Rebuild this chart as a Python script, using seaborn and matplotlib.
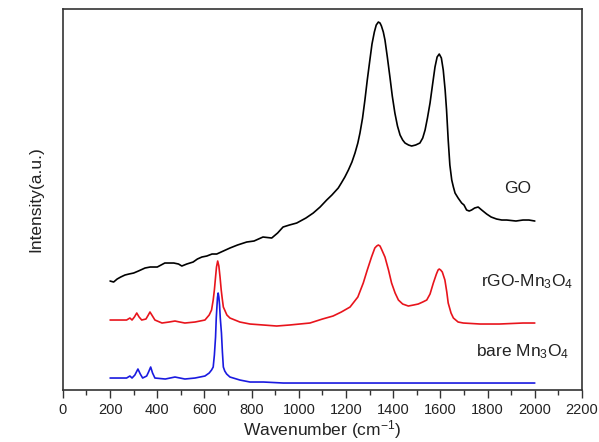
import numpy as np
import pandas as pd
import matplotlib
matplotlib.use("Agg")
import matplotlib.pyplot as plt
import seaborn as sns
from matplotlib.ticker import MultipleLocator

# ---- data (arbitrary intensity units) ----
go_x = [200, 215, 230, 245, 263, 280, 300, 320, 348, 370, 400, 432, 450, 470, 490, 504, 525,
        552, 570, 589, 610, 632, 652, 680, 708, 740, 779, 810, 848, 885, 910,
        933, 960, 991, 1030, 1061, 1090, 1118, 1140, 1167, 1180, 1195, 1210, 1225, 1238, 1250,
        1259, 1270, 1280, 1290, 1301, 1310, 1320, 1328, 1337, 1344, 1350, 1358, 1365, 1375,
        1386, 1396, 1407, 1418, 1429, 1440, 1450, 1465, 1478, 1495, 1513, 1525, 1535, 1545,
        1556, 1567, 1577, 1586, 1595, 1604, 1612, 1620, 1626, 1633, 1640, 1648, 1655, 1662,
        1675, 1690, 1700, 1711, 1722, 1732, 1745, 1760, 1775, 1796, 1815, 1838, 1860, 1881,
        1920, 1950, 1975, 2000]
go_y = [109, 108, 111, 113, 115, 116, 117, 119, 122, 123, 123, 127, 127, 127, 126, 124, 126,
        128, 131, 133, 134, 136, 136, 139, 142, 145, 148, 149, 153, 152, 157,
        163, 165, 167, 172, 177, 183, 190, 195, 202, 207, 213, 220, 228, 237, 247,
        257, 272, 290, 310, 330, 346, 358, 365, 368, 367, 364, 358, 350, 333,
        313, 294, 277, 264, 255, 250, 247, 245, 244, 245, 247, 252, 260, 272,
        287, 306, 323, 333, 336, 332, 320, 300, 280, 250, 225, 210, 203, 197,
        192, 187, 185, 180, 179, 180, 182, 183, 180, 176, 173, 171, 170, 170,
        169, 170, 170, 169]

rgo_x = [200, 250, 270, 284, 293, 303, 313, 323, 334, 352, 362, 369, 377, 390, 420, 450, 475,
         495, 517, 560, 602, 620, 630, 637, 642, 647, 651, 656, 661, 666, 671, 675, 680, 695,
         708, 750, 793, 850, 906, 960, 1047, 1100, 1145, 1180, 1217, 1250,
         1273, 1290, 1308, 1322, 1330, 1337, 1344, 1350, 1365, 1380, 1393, 1408, 1422, 1440,
         1464, 1486, 1506, 1525, 1542, 1556, 1570, 1583, 1590, 1595, 1601, 1608, 1619, 1627,
         1633, 1645, 1655, 1675, 1697, 1768, 1850, 1950, 2000]
rgo_y = [70, 70, 70, 72, 70, 73, 77, 73, 70, 71, 75, 78, 75, 70, 67, 68, 69,
         68, 67, 68, 70, 75, 80, 90, 100, 113, 123, 129, 124, 113, 100, 92, 83, 75,
         72, 68, 66, 65, 64, 65, 67, 71, 74, 78, 83, 93,
         107, 120, 133, 142, 144, 145, 144, 141, 133, 120, 107, 97, 90, 86,
         84, 85, 86, 88, 90, 96, 107, 116, 120, 121, 120, 118, 110, 98,
         87, 77, 72, 68, 67, 66, 66, 67, 67]

bare_x = [200, 250, 270, 284, 293, 305, 318, 328, 338, 355, 363, 372, 380, 390, 434, 475, 517,
          560, 602, 620, 630, 637, 642, 647, 650, 655, 658, 661, 664, 667, 672, 676, 680, 686,
          694, 708, 750, 793, 850, 934, 1000, 1500, 2000]
bare_y = [12, 12, 12, 14, 12, 15, 21, 16, 12, 14, 18, 23, 17, 12, 11, 13, 11,
          12, 14, 17, 20, 23, 35, 53, 72, 92, 97, 93, 85, 72, 57, 38, 23, 19,
          16, 13, 10, 8, 8, 7, 7, 7, 7]

labels = ["GO", "rGO-Mn$_3$O$_4$", "bare Mn$_3$O$_4$"]
label_x = [1929, 1967, 1950]
label_y = [202, 108, 38]
colors = ["#000000", "#e8141c", "#1a1ae0"]

df = pd.concat([
    pd.DataFrame({"x": go_x, "y": go_y, "s": labels[0]}),
    pd.DataFrame({"x": rgo_x, "y": rgo_y, "s": labels[1]}),
    pd.DataFrame({"x": bare_x, "y": bare_y, "s": labels[2]}),
])

sns.set_theme(style="ticks")
plt.rcParams["font.family"] = ["Liberation Sans", "DejaVu Sans"]
plt.rcParams["mathtext.fontset"] = "custom"
plt.rcParams["mathtext.rm"] = "Liberation Sans"
plt.rcParams["mathtext.it"] = "Liberation Sans:italic"

fig = plt.figure(figsize=(5.99, 4.42), dpi=100)
ax = fig.add_axes([0.105, 0.1176, 0.8666, 0.862])

sns.lineplot(data=df, x="x", y="y", hue="s", palette=dict(zip(labels, colors)),
             linewidth=1.2, legend=False, ax=ax, sort=False, estimator=None)

for t, tx, ty in zip(labels, label_x, label_y):
    ax.text(tx, ty, t, ha="center", va="center", fontsize=12.5, color="#222222")

ax.set_xlim(0, 2200)
ax.set_ylim(0, 381)
ax.xaxis.set_major_locator(MultipleLocator(200))
ax.xaxis.set_minor_locator(MultipleLocator(100))
ax.set_yticks([])
ax.tick_params(axis="x", which="major", direction="out", length=6, width=1.0,
               labelsize=10.5, colors="#333333", labelcolor="#222222", pad=3)
ax.tick_params(axis="x", which="minor", direction="out", length=3.5, width=1.0, colors="#333333")
for sp in ax.spines.values():
    sp.set_visible(True)
    sp.set_linewidth(1.2)
    sp.set_color("#333333")

ax.set_xlabel("Wavenumber (cm$^{-1}$)", fontsize=12.5, color="#222222", labelpad=1)
ax.set_ylabel("Intensity(a.u.)", fontsize=12.5, color="#222222", labelpad=14)

fig.savefig("out.png", dpi=100)
